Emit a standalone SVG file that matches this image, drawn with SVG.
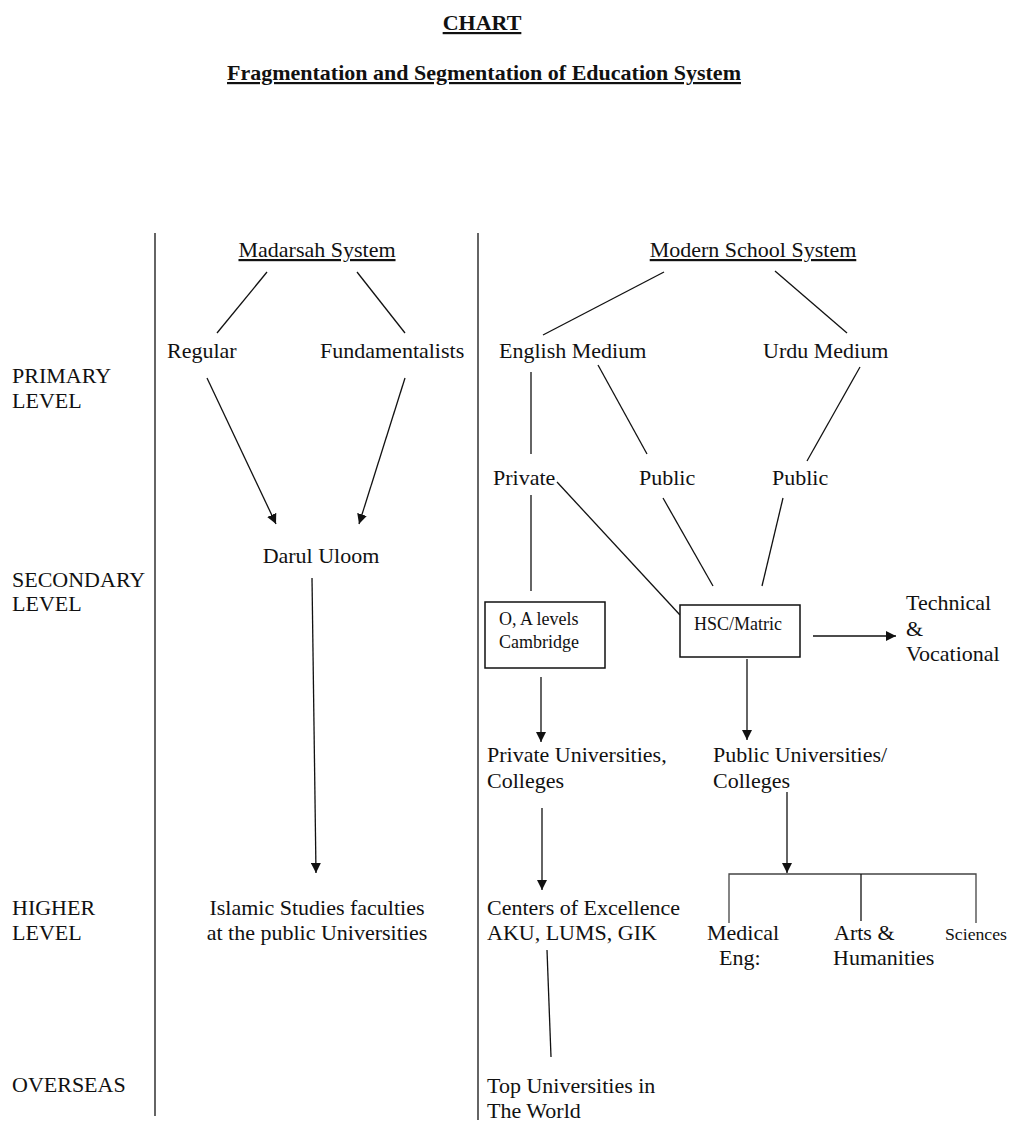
<svg xmlns="http://www.w3.org/2000/svg" width="1011" height="1125" viewBox="0 0 1011 1125">
<style>
  text { font-family: "Liberation Serif", "Times New Roman", serif; font-size: 22px; fill: #111; }
  .title { font-weight: bold; text-decoration: underline; }
  .ul { text-decoration: underline; }
  .small { font-size: 18px; }
  .tiny { font-size: 16px; }
  .c { text-anchor: middle; }
  .ln { stroke: #111; stroke-width: 1.3; fill: none; }
  .gl { stroke: #444; stroke-width: 1.3; fill: none; }
  .box { stroke: #111; stroke-width: 1.5; fill: #fff; }
</style>
<defs>
  <marker id="ah" viewBox="0 0 10 10" refX="10" refY="5" markerWidth="10" markerHeight="10" markerUnits="userSpaceOnUse" orient="auto">
    <path d="M0,0 L10,5 L0,10 Z" fill="#111"/>
  </marker>
</defs>
<rect width="1011" height="1125" fill="#fff"/>

<g id="titles">
  <text class="title c" x="482" y="30">CHART</text>
  <text class="title c" x="484" y="80">Fragmentation and Segmentation of Education System</text>
</g>

<g id="levels">
  <text x="12" y="383">PRIMARY</text>
  <text x="12" y="408">LEVEL</text>
  <text x="12" y="587">SECONDARY</text>
  <text x="12" y="611">LEVEL</text>
  <text x="12" y="915">HIGHER</text>
  <text x="12" y="940">LEVEL</text>
  <text x="12" y="1092">OVERSEAS</text>
</g>

<g id="dividers">
  <line class="ln" x1="155" y1="233" x2="155" y2="1116"/>
  <line class="ln" x1="478" y1="233" x2="478" y2="1120"/>
</g>

<g id="connectors">
  <!-- Madarsah -->
  <line class="ln" x1="267" y1="272" x2="217" y2="333"/>
  <line class="ln" x1="357" y1="272" x2="405" y2="333"/>
  <line class="ln" x1="207" y1="378" x2="276" y2="524" marker-end="url(#ah)"/>
  <line class="ln" x1="405" y1="378" x2="359" y2="524" marker-end="url(#ah)"/>
  <line class="ln" x1="312" y1="578" x2="316" y2="873" marker-end="url(#ah)"/>
  <!-- Modern -->
  <line class="ln" x1="664" y1="272" x2="543" y2="335"/>
  <line class="ln" x1="775" y1="271" x2="847" y2="333"/>
  <line class="ln" x1="531" y1="372" x2="531" y2="454"/>
  <line class="ln" x1="598" y1="365" x2="647" y2="454"/>
  <line class="ln" x1="860" y1="367" x2="807" y2="461"/>
  <line class="ln" x1="531" y1="495" x2="531" y2="591"/>
  <line class="ln" x1="557" y1="482" x2="680" y2="615"/>
  <line class="ln" x1="663" y1="498" x2="713" y2="586"/>
  <line class="ln" x1="783" y1="498" x2="762" y2="586"/>
  <line class="ln" x1="813" y1="636" x2="896" y2="636" marker-end="url(#ah)"/>
  <line class="ln" x1="541" y1="677" x2="541" y2="742" marker-end="url(#ah)"/>
  <line class="ln" x1="747" y1="659" x2="747" y2="740" marker-end="url(#ah)"/>
  <line class="ln" x1="542" y1="808" x2="542" y2="890" marker-end="url(#ah)"/>
  <line class="ln" x1="787" y1="792" x2="787" y2="873" marker-end="url(#ah)"/>
  <polyline class="gl" points="729,923 729,874 976,874 976,923"/>
  <line class="ln" x1="861" y1="874" x2="861" y2="921"/>
  <line class="ln" x1="547" y1="950" x2="551" y2="1057"/>
</g>

<g id="madarsah-system"><text class="ul c" x="317" y="257">Madarsah System</text></g>
<g id="regular"><text x="167" y="358">Regular</text></g>
<g id="fundamentalists"><text x="320" y="358">Fundamentalists</text></g>
<g id="darul-uloom"><text class="c" x="321" y="563">Darul Uloom</text></g>
<g id="islamic-studies">
  <text class="c" x="317" y="915">Islamic Studies faculties</text>
  <text class="c" x="317" y="940">at the public Universities</text>
</g>

<g id="modern-school-system"><text class="ul c" x="753" y="257">Modern School System</text></g>
<g id="english-medium"><text x="499" y="358">English Medium</text></g>
<g id="urdu-medium"><text x="763" y="358">Urdu Medium</text></g>
<g id="private"><text x="493" y="485">Private</text></g>
<g id="public-english"><text x="639" y="485">Public</text></g>
<g id="public-urdu"><text x="772" y="485">Public</text></g>

<g id="o-a-levels">
  <rect class="box" x="485" y="602" width="120" height="66"/>
  <text class="small" x="499" y="625">O, A levels</text>
  <text class="small" x="499" y="648">Cambridge</text>
</g>
<g id="hsc-matric">
  <rect class="box" x="680" y="605" width="120" height="52"/>
  <text class="small" x="694" y="630">HSC/Matric</text>
</g>
<g id="technical-vocational">
  <text x="906" y="610">Technical</text>
  <text x="906" y="636">&amp;</text>
  <text x="906" y="661">Vocational</text>
</g>

<g id="private-universities">
  <text x="487" y="762">Private Universities,</text>
  <text x="487" y="788">Colleges</text>
</g>
<g id="public-universities">
  <text x="713" y="762">Public Universities/</text>
  <text x="713" y="788">Colleges</text>
</g>
<g id="centers-of-excellence">
  <text x="487" y="915">Centers of Excellence</text>
  <text x="487" y="940">AKU, LUMS, GIK</text>
</g>
<g id="medical-eng">
  <text x="707" y="940">Medical</text>
  <text x="719" y="965">Eng:</text>
</g>
<g id="arts-humanities">
  <text x="834" y="940">Arts &amp;</text>
  <text x="833" y="965">Humanities</text>
</g>
<g id="sciences"><text class="tiny" x="945" y="940" textLength="62" lengthAdjust="spacingAndGlyphs">Sciences</text></g>
<g id="top-universities">
  <text x="487" y="1093">Top Universities in</text>
  <text x="487" y="1118">The World</text>
</g>
</svg>
